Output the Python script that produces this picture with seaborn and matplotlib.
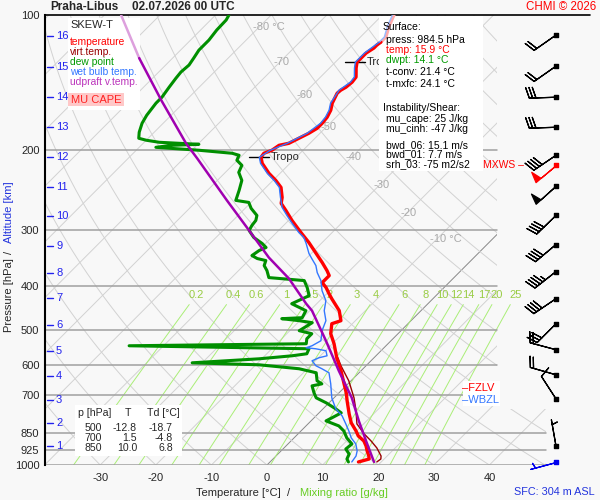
import numpy as np
import matplotlib
matplotlib.use("Agg")
import matplotlib.pyplot as plt
import matplotlib.transforms as mtransforms
from matplotlib.patches import Rectangle, Polygon
from matplotlib.ticker import NullLocator
import seaborn as sns

# ---- sounding: pressure [hPa], temperature [degC] ----
temp_p = [100.0, 102.6, 106.3, 111.9, 114.9, 116.6, 118.4, 121.5, 124.7, 127.3, 131.2, 137.4,
          141.0, 144.7, 146.9, 149.2, 157.0, 162.8, 168.7, 174.0, 178.5, 183.1, 187.9, 192.8,
          194.8, 199.8, 202.9, 207.1, 213.6, 224.8, 233.1, 241.6, 254.3, 262.2, 271.8, 286.1,
          296.6, 305.9, 320.3, 338.9, 354.9, 369.8, 379.4, 385.3, 393.3, 403.5, 416.1, 427.0,
          454.0, 477.9, 485.3, 510.8, 537.7, 577.7, 617.4, 660.2, 691.2, 720.2, 769.8, 806.2,
          840.0, 861.8, 884.2, 907.2, 930.8, 955.0, 969.8, 984.5]
temp_t = [-57.9, -57.4, -56.7, -55.4, -55.4, -55.6, -55.6, -56.1, -56.1, -56.1, -55.2, -53.6,
          -53.4, -53.6, -54.0, -54.1, -53.2, -52.2, -51.6, -51.4, -51.4, -52.0, -52.9, -53.8,
          -55.2, -55.6, -56.5, -56.3, -55.0, -52.0, -49.5, -47.3, -45.3, -44.4, -42.3, -39.4,
          -37.2, -35.3, -32.4, -29.1, -26.4, -24.1, -22.8, -22.8, -22.8, -21.2, -19.6, -18.2,
          -14.7, -12.6, -13.7, -12.1, -9.7, -6.7, -3.6, -0.7, 1.3, 2.9, 5.6, 7.6,
          9.9, 11.2, 13.1, 14.4, 15.5, 16.7, 17.3, 15.9]

dew_p = [100.0, 102.6, 108.0, 113.7, 119.7, 124.7, 129.2, 133.9, 138.1, 144.7, 152.3, 157.0,
         167.0, 174.0, 182.2, 187.9, 189.8, 191.8, 193.8, 194.8, 196.8, 199.8, 202.9, 205.0,
         210.3, 215.8, 223.7, 233.1, 245.3, 258.2, 260.9, 269.0, 278.9, 286.1, 293.6, 301.2,
         312.2, 322.0, 328.6, 333.7, 342.4, 347.7, 351.3, 360.4, 369.8, 383.3, 389.2, 403.5,
         420.4, 438.1, 454.0, 470.6, 473.0, 477.9, 482.8, 503.0, 510.8, 524.1, 537.7, 543.3,
         551.7, 566.0, 571.9, 580.8, 592.8, 598.9, 611.1, 623.8, 650.0, 660.2, 667.0, 691.2,
         709.2, 727.6, 750.4, 765.9, 785.8, 798.0, 818.7, 840.0, 870.7, 898.0, 921.4, 945.3,
         969.8, 984.5]
dew_t = [-87.6, -87.2, -87.1, -86.7, -86.7, -86.2, -85.8, -86.0, -85.8, -85.4, -84.9, -84.9,
         -84.4, -83.8, -82.7, -81.7, -80.0, -77.3, -69.8, -74.5, -77.0, -68.7, -62.2, -60.6,
         -60.1, -58.3, -57.6, -55.6, -54.3, -53.1, -50.4, -48.9, -46.6, -45.9, -45.7, -45.3,
         -43.2, -40.6, -39.2, -39.9, -40.3, -38.8, -36.9, -36.3, -34.9, -33.3, -26.4, -24.6,
         -22.8, -24.5, -20.7, -20.1, -23.6, -20.1, -17.4, -18.3, -15.5, -15.5, -14.7, -46.2,
         -13.3, -12.8, -15.1, -20.5, -31.8, -19.4, -11.5, -7.7, -6.1, -4.7, -6.1, -4.5,
         -3.2, -0.5, 2.3, 4.0, 3.2, 2.7, 5.9, 7.7, 9.5, 11.5, 11.3, 12.8,
         13.3, 14.1]

wb_p = [100.0, 106.3, 111.9, 114.9, 121.5, 127.3, 131.2, 137.4, 141.0, 146.9, 157.0, 162.8,
        168.7, 174.0, 183.1, 192.8, 199.8, 207.1, 213.6, 224.8, 233.1, 241.6, 254.3, 267.7,
        278.9, 290.6, 304.3, 312.2, 322.0, 338.9, 347.7, 360.4, 373.6, 389.2, 409.7, 431.4,
        454.0, 477.9, 503.0, 529.5, 543.3, 548.9, 551.7, 557.3, 571.9, 577.7, 586.7, 601.9,
        611.1, 623.8, 660.2, 709.2, 750.4, 777.8, 810.4, 840.0, 870.7, 898.0, 930.8, 955.0,
        984.5]
wb_t = [-58.2, -57.0, -55.7, -55.7, -56.4, -56.4, -55.5, -53.9, -53.7, -54.3, -53.5, -52.5,
        -51.9, -51.7, -52.3, -54.1, -55.9, -56.6, -55.3, -52.3, -49.8, -47.6, -45.6, -43.5,
        -41.2, -38.8, -36.0, -34.2, -32.7, -30.4, -29.0, -27.0, -25.5, -23.4, -21.4, -18.9,
        -17.4, -15.3, -14.2, -12.6, -13.3, -14.0, -12.1, -9.9, -8.8, -9.9, -10.6, -9.0,
        -7.4, -5.4, -3.1, -0.4, 2.3, 4.7, 6.8, 8.6, 10.3, 12.2, 13.7, 14.4,
        14.7]

tv_p = [577.7, 601.9, 650.0, 709.2, 758.1, 810.4, 853.0, 884.2, 916.5, 955.0, 969.8, 984.5]
tv_t = [-6.5, -4.5, -0.4, 3.6, 6.3, 8.8, 11.9, 14.4, 16.7, 18.9, 19.4, 19.2]

parcel_p = [100.0, 111.9, 124.7, 154.6, 192.8, 208.2, 258.2, 301.2, 345.9, 385.3, 438.1, 454.0,
            529.5, 617.4, 709.2, 798.0, 884.2, 984.5]
parcel_t = [-107.0, -101.4, -96.0, -84.5, -72.3, -67.6, -54.7, -45.3, -36.9, -29.5, -21.9, -19.6,
            -11.7, -4.0, 3.2, 8.6, 13.5, 18.7]

tropo_p = [207.1, 127.3]

# wind barbs (direction deg, speed kt)
wind_p = [110.8, 129.9, 152.3, 177.6, 205.0, 240.4, 278.9, 323.6, 371.7, 427.0, 485.3, 554.4,
          630.3, 712.9, 907.2]
wind_dir = [235, 235, 268, 268, 236, 228, 226, 230, 232, 236, 225, 285, 286, 327, 350]
wind_kt = [20, 20, 30, 30, 40, 50, 40, 40, 45, 40, 30, 20, 20, 10, 5]
sfc_wind = (984.5, 255, 5)
mxws_wind = (215.8, 230, 50)

# altitude scale (km) and where it sits in pressure
alt_km = list(range(1, 17))
alt_p = [907.0, 806.2, 716.6, 633.6, 557.3, 487.7, 424.7, 373.5, 325.3, 280.3, 241.6, 207.2,
         177.6, 152.3, 130.6, 111.4]

p_levels = [100, 200, 300, 400, 500, 600, 700, 850, 925, 1000]
t_ticks = [-30, -20, -10, 0, 10, 20, 30, 40]
iso_label_t = [-80, -70, -60, -50, -40, -30, -20, -10]
iso_label_p = [106.3, 127.3, 150.7, 177.6, 207.2, 239.1, 276.0, 315.4]
mix_ratios = [0.2, 0.4, 0.6, 1, 1.5, 2, 3, 4, 6, 8, 10, 12, 14, 17, 20, 25]

fzlv_p, wbzl_p = 673.9, 716.6
table_p = [500, 700, 850]
table_t = [-12.8, 1.5, 10.0]
table_td = [-18.7, -4.8, 6.8]

surface_lines = [("Surface:", "black", 27, 383),
                 ("press: 984.5 hPa", "black", 40, 386),
                 ("temp: 15.9 \u00b0C", "#ff0000", 50, 386),
                 ("dwpt: 14.1 \u00b0C", "#009900", 60, 386),
                 ("t-conv: 21.4 \u00b0C", "black", 72, 386),
                 ("t-mxfc: 24.1 \u00b0C", "black", 84, 386),
                 ("Instability/Shear:", "black", 108, 383),
                 ("mu_cape: 25 J/kg", "black", 119, 386),
                 ("mu_cinh: -47 J/kg", "black", 129, 386),
                 ("bwd_06: 15.1 m/s", "black", 145, 386),
                 ("bwd_01: 7.7 m/s", "black", 154, 386),
                 ("srh_03: -75 m2/s2", "black", 164, 386)]
legend_items = [("temperature", "#ff0000"), ("virt.temp.", "#990000"), ("dew point", "#009900"),
                ("wet bulb temp.", "#3377ff"), ("udpraft v.temp.", "#bb33bb")]

# ---------------------------------------------------------------------------
sns.set_style("white")
plt.rcParams["font.family"] = ["Liberation Sans", "DejaVu Sans"]

BG = "#f8f8f8"
X0_PX, PX_PER_C = 267.0, 5.56
SKEW = 195.0 / PX_PER_C


def skew_x(t, p):
    return np.asarray(t, float) + SKEW * np.log(1000.0 / np.asarray(p, float))


def px_x(px):
    return (px - X0_PX) / PX_PER_C


fig = plt.figure(figsize=(6, 5), dpi=100, facecolor=BG)
ax = fig.add_axes([45 / 600, 35 / 500, 555 / 600, 450 / 500])
ax.set_facecolor(BG)
ax.set_yscale("log")
ax.set_ylim(1000, 100)
ax.set_xlim(px_x(45), px_x(600))
pix = mtransforms.Affine2D().scale(1 / 600, -1 / 500).translate(0, 1) + fig.transFigure

for s in ["top", "right", "bottom"]:
    ax.spines[s].set_visible(False)
ax.spines["left"].set_color("black")
ax.spines["left"].set_linewidth(1.5)

ax.yaxis.set_minor_locator(NullLocator())
ax.set_yticks(p_levels)
ax.set_yticklabels([str(p) for p in p_levels])
ax.set_xticks(t_ticks)
ax.set_xticklabels([str(t) for t in t_ticks])
ax.tick_params(axis="both", length=0, labelsize=8)
ax.tick_params(axis="y", pad=4)
ax.tick_params(axis="x", pad=6)

# clip region for the background grid
clip = Polygon([(px_x(45), 100), (px_x(497), 100), (px_x(497), 750), (px_x(546), 750),
                (px_x(546), 1000), (px_x(45), 1000)], closed=True, transform=ax.transData,
               facecolor="none", edgecolor="none")
ax.add_patch(clip)

pp = np.logspace(np.log10(100), np.log10(1000), 60)
for t in range(-130, 60, 10):
    ln, = ax.plot(skew_x([t, t], [1000, 100]), [1000, 100],
                  color="#888888" if t == 0 else "#d2d2d2", lw=0.7, zorder=1)
    ln.set_clip_path(clip)
for th in range(-40, 200, 10):
    tt = (th + 273.15) * (pp / 1000.0) ** 0.2857 - 273.15
    ln, = ax.plot(skew_x(tt, pp), pp, color="#d2d2d2", lw=0.7, zorder=1)
    ln.set_clip_path(clip)

pm = np.logspace(np.log10(440), np.log10(1000), 30)
for w in mix_ratios:
    for p_arr, draw in [(pm, True), (np.array([420.0]), False)]:
        e = w * p_arr / (622.0 + w)
        a = np.log(e / 6.112)
        td = 243.5 * a / (17.67 - a)
        if draw:
            ax.plot(skew_x(td, p_arr), p_arr, color="#aaee77", lw=0.7, zorder=1.2)
        else:
            ax.text(skew_x(td, p_arr)[0], 420, f"{w:g}", color="#99cc44", fontsize=8,
                    ha="center", va="center", zorder=2)

for t, p in zip(iso_label_t, iso_label_p):
    lab = f"{t} \u00b0C" if t in (-80, -10) else f"{t}"
    ax.text(skew_x(t, p) - 6 / PX_PER_C, p, lab, color="#aaaaaa", fontsize=8,
            ha="left", va="center", zorder=2)

for p in p_levels[1:]:
    xm = (546 - 45) / 555 if p >= 850 else (497 - 45) / 555
    ax.axhline(p, xmin=0, xmax=xm, color="#a0a0a0", lw=1.1, zorder=1.5)
ax.axhline(100, xmin=0, xmax=(590 - 45) / 555, color="black", lw=1.2, zorder=3.5, clip_on=False)

# altitude scale
for k, p in zip(alt_km, alt_p):
    ax.plot([px_x(47), px_x(53)], [p, p], color="#2222ee", lw=1, zorder=2)
    ax.text(px_x(56), p, str(k), color="#2222ee", fontsize=8, ha="left", va="center", zorder=2)

# tropopause marks
for p in tropo_p:
    xt = skew_x(np.interp(p, temp_p, temp_t), p)
    ax.plot([xt - 12 / PX_PER_C, xt + 8 / PX_PER_C], [p, p], color="black", lw=1, zorder=2.5)
    ax.text(xt + 10 / PX_PER_C, p, "Tropo", fontsize=8, ha="left", va="center", zorder=2.5)

# white info boxes
for (bx, by, bw, bh) in [(68, 18, 72, 92), (379, 16, 104, 155), (75, 405, 107, 51), (463, 381, 37, 25)]:
    ax.add_patch(Rectangle((bx, by), bw, bh, transform=pix, facecolor="white",
                           edgecolor="none", zorder=3, clip_on=False))
ax.add_patch(Rectangle((68, 93), 56, 13, transform=pix, facecolor="#ffc8c8",
                       edgecolor="none", zorder=3.1, clip_on=False))

# profiles
def profile(t, p, **kw):
    sns.lineplot(x=skew_x(t, p), y=np.asarray(p, float), sort=False, estimator=None,
                 ax=ax, **kw)

tp, tt = np.array(temp_p), np.array(temp_t)
wp, wt = np.array(wb_p), np.array(wb_t)
cp, ct = np.array(parcel_p), np.array(parcel_t)
profile(dew_t, dew_p, color="#008f00", lw=2.2, zorder=4)
profile(tt[tp <= 115], tp[tp <= 115], color="#ffaaaa", lw=2.2, zorder=4.2)
profile(tt[tp >= 114.9], tp[tp >= 114.9], color="#ff0000", lw=2.4, zorder=4.2)
profile(tv_t, tv_p, color="#990000", lw=1.0, zorder=4.1)
profile(wt[wp <= 115], wp[wp <= 115], color="#99bbff", lw=1.0, zorder=4.3)
profile(wt[wp >= 114.9], wp[wp >= 114.9], color="#3377ff", lw=1.0, zorder=4.3)
profile(ct[cp <= 124.7], cp[cp <= 124.7], color="#dda0dd", lw=1.8, zorder=4.4)
profile(ct[cp >= 124.7], cp[cp >= 124.7], color="#a000b0", lw=1.8, zorder=4.4)

# wind barbs
bxp = px_x(556)
d = np.deg2rad(wind_dir)
spd = np.array(wind_kt, float)
ax.barbs(np.full(len(wind_p), bxp), wind_p, -spd * np.sin(d), -spd * np.cos(d),
         length=6.2, pivot="tip", color="black", linewidth=0.9, zorder=6, clip_on=False)
ax.scatter(np.full(len(wind_p), bxp), wind_p, marker="s", s=7, color="black", zorder=6,
           clip_on=False)
for (p, dd, s), col in [(mxws_wind, "#ff0000"), (sfc_wind, "#0000ee")]:
    r = np.deg2rad(dd)
    ax.barbs([bxp], [p], [-s * np.sin(r)], [-s * np.cos(r)], length=6.2, pivot="tip",
             color=col, linewidth=0.9, zorder=6.5, clip_on=False)
    ax.scatter([bxp], [p], marker="s", s=7, color=col, zorder=6.5, clip_on=False)
ax.text(px_x(483), mxws_wind[0], "MXWS \u2013", color="#ff0000", fontsize=7.5,
        ha="left", va="center", zorder=6)

# legend
ax.text(70, 25, "SKEW-T", transform=pix, fontsize=8, ha="left", va="center", zorder=6)
for i, (lab, col) in enumerate(legend_items):
    ax.text(70, 42 + 10 * i, lab, transform=pix, color=col, fontsize=7.4,
            ha="left", va="center", zorder=6)
ax.text(96, 100, "MU CAPE", transform=pix, color="#ff2222", fontsize=8,
        ha="center", va="center", zorder=6)

# surface info
for lab, col, y, x in surface_lines:
    ax.text(x, y, lab, transform=pix, color=col, fontsize=7.5, ha="left", va="center", zorder=6)

# table
ax.text(78, 413, "p [hPa]", transform=pix, fontsize=7.6, ha="left", va="center", zorder=6)
ax.text(128, 413, "T", transform=pix, fontsize=7.6, ha="center", va="center", zorder=6)
ax.text(147, 413, "Td [\u00b0C]", transform=pix, fontsize=7.6, ha="left", va="center", zorder=6)
for i, (p, t, td) in enumerate(zip(table_p, table_t, table_td)):
    y = 428 + 10 * i
    ax.text(102, y, str(p), transform=pix, fontsize=7.6, ha="right", va="center", zorder=6)
    ax.text(137, y, f"{t:.1f}", transform=pix, fontsize=7.6, ha="right", va="center", zorder=6)
    ax.text(173, y, f"{td:.1f}", transform=pix, fontsize=7.6, ha="right", va="center", zorder=6)

# freezing / wet bulb zero levels
ax.text(px_x(462), fzlv_p, "\u2013FZLV", color="#ff0000", fontsize=8, ha="left",
        va="center", zorder=6)
ax.text(px_x(462), wbzl_p, "\u2013WBZL", color="#3377ff", fontsize=8, ha="left",
        va="center", zorder=6)

# titles and axis labels
fig.text(50, 7, "Praha-Libus", transform=pix, fontsize=8.5, fontweight="bold", ha="left", va="center")
fig.text(132, 7, "02.07.2026 00 UTC", transform=pix, fontsize=8.5, fontweight="bold", ha="left", va="center")
fig.text(596, 7, "CHMI \u00a9 2026", transform=pix, fontsize=8.3, color="#ff0000", ha="right", va="center")
fig.text(595, 492, "SFC: 304 m ASL", transform=pix, fontsize=7.8, color="#2233dd", ha="right", va="center")
fig.text(238, 493, "Temperature [\u00b0C]", transform=pix, fontsize=8, ha="center", va="center")
fig.text(289, 493, "/", transform=pix, fontsize=8, ha="center", va="center")
fig.text(344, 493, "Mixing ratio [g/kg]", transform=pix, fontsize=8, color="#66cc22", ha="center", va="center")
fig.text(9, 295, "Pressure [hPa]", transform=pix, fontsize=8, rotation=90, ha="center", va="center")
fig.text(9, 252, "/", transform=pix, fontsize=8, rotation=90, ha="center", va="center")
fig.text(9, 212, "Altitude [km]", transform=pix, fontsize=8, rotation=90, color="#2233dd", ha="center", va="center")

fig.savefig("out.png", dpi=100, facecolor=BG)
